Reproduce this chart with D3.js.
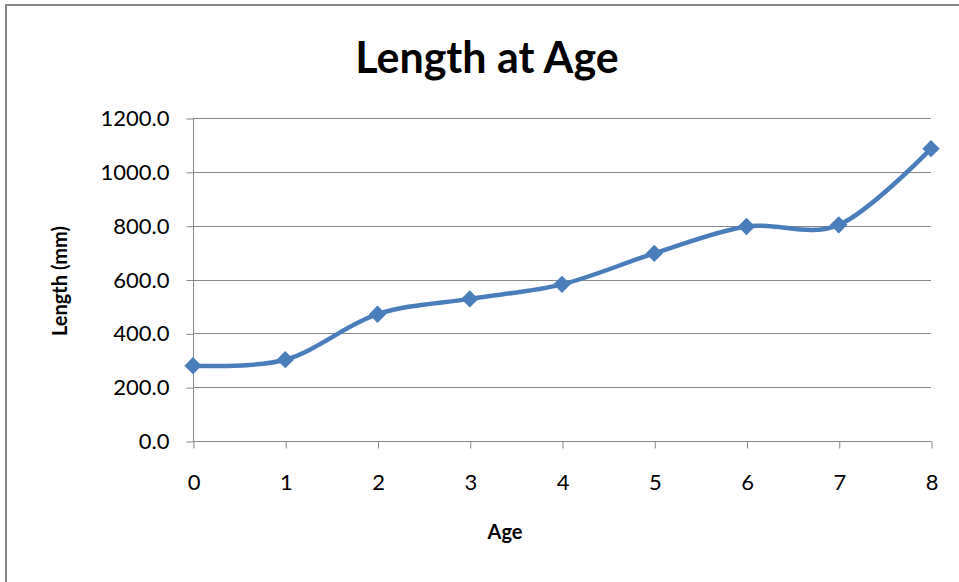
<!DOCTYPE html>
<html>
<head>
<meta charset="utf-8">
<script src="https://cdn.jsdelivr.net/npm/d3@7/dist/d3.min.js"></script>
<style>
  html, body { margin: 0; padding: 0; background: #fff; }
  svg { display: block; }
  text { font-family: Lato, "Open Sans", "DejaVu Sans", sans-serif; fill: #000; }
</style>
</head>
<body>
<svg id="chart" width="959" height="582"></svg>
<script>
const ages = [0, 1, 2, 3, 4, 5, 6, 7, 8];
const lengths = [280, 302, 471, 528, 582, 697, 797, 803, 1086];
const yTicks = [0, 200, 400, 600, 800, 1000, 1200];
const xTicks = [0, 1, 2, 3, 4, 5, 6, 7, 8];
const titleText = "Length at Age";
const xTitle = "Age";
const yTitle = "Length (mm)";

const svg = d3.select("#chart");
const W = 959, H = 582;
const plot = { left: 193, right: 931, top: 118, bottom: 441 };
const gridColor = "#878787";
const lineColor = "#4A7EBB";

svg.append("rect").attr("width", W).attr("height", H).attr("fill", "#fff");
svg.append("rect")
  .attr("x", 6).attr("y", 5).attr("width", W + 20).attr("height", H + 20)
  .attr("fill", "none").attr("stroke", "#868686").attr("stroke-width", 2);

const x = d3.scaleLinear().domain([0, 8]).range([plot.left, plot.right]);
const y = d3.scaleLinear().domain([0, 1200]).range([plot.bottom, plot.top]);

// gridlines
svg.append("g").selectAll("line").data(yTicks.filter(d => d > 0)).join("line")
  .attr("x1", plot.left).attr("x2", plot.right)
  .attr("y1", d => Math.round(y(d)) + 0.5).attr("y2", d => Math.round(y(d)) + 0.5)
  .attr("stroke", gridColor).attr("stroke-width", 1);

// y axis
const yAxis = svg.append("g")
  .attr("transform", `translate(${plot.left + 0.5},0.5)`)
  .call(d3.axisLeft(y).tickValues(yTicks).tickFormat(d3.format(".1f")).tickSize(7).tickPadding(17));
yAxis.select(".domain").attr("stroke", gridColor).attr("d", `M0,${plot.top}V${plot.bottom}`);
yAxis.selectAll(".tick line").attr("stroke", gridColor);
yAxis.selectAll(".tick text").attr("font-size", 22).attr("fill", "#000")
  .style("font-family", "Lato, 'Open Sans', sans-serif");

// x axis
const xAxis = svg.append("g")
  .attr("transform", `translate(0.5,${Math.round(plot.bottom) + 0.5})`)
  .call(d3.axisBottom(x).tickValues(xTicks).tickFormat(d3.format("d")).tickSize(7).tickPadding(26));
xAxis.select(".domain").attr("stroke", gridColor).attr("d", `M${plot.left},0H${plot.right}`);
xAxis.selectAll(".tick line").attr("stroke", gridColor);
xAxis.selectAll(".tick text").attr("font-size", 22).attr("fill", "#000")
  .style("font-family", "Lato, 'Open Sans', sans-serif");

// line
const pts = ages.map((a, i) => [a, lengths[i]]);
const line = d3.line().x(d => x(d[0])).y(d => y(d[1])).curve(d3.curveCardinal.tension(0));
svg.append("path").datum(pts)
  .attr("d", line).attr("fill", "none")
  .attr("stroke", lineColor).attr("stroke-width", 4.5)
  .attr("stroke-linejoin", "round").attr("stroke-linecap", "round");

// markers
const sym = d3.symbol().type(d3.symbolSquare).size(150);
svg.append("g").selectAll("path").data(pts).join("path")
  .attr("d", sym)
  .attr("transform", d => `translate(${x(d[0])},${y(d[1])}) rotate(45)`)
  .attr("fill", lineColor);

// titles
svg.append("text").attr("x", 487).attr("y", 73).attr("text-anchor", "middle")
  .attr("font-size", 43).attr("font-weight", "bold").text(titleText);
svg.append("text").attr("x", 505).attr("y", 539).attr("text-anchor", "middle")
  .attr("font-size", 20).attr("font-weight", "bold").text(xTitle);
svg.append("text").attr("transform", "translate(67,281) rotate(-90)").attr("text-anchor", "middle")
  .attr("font-size", 20).attr("font-weight", "bold").text(yTitle);
</script>
</body>
</html>
